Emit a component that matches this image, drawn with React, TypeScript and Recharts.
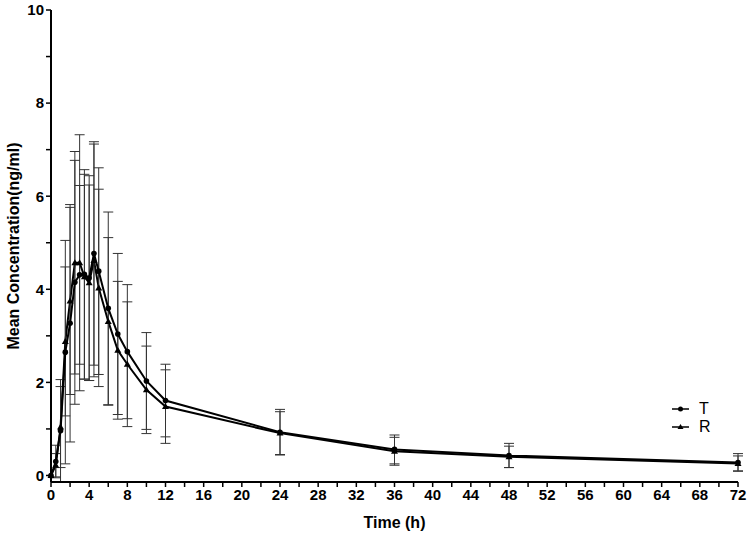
import { LineChart, Line, XAxis, YAxis, ErrorBar, Legend } from 'recharts'

const time = [0, 0.5, 1, 1.5, 2, 2.5, 3, 3.5, 4, 4.5, 5, 6, 7, 8, 10, 12, 24, 36, 48, 72]
const tMean = [0, 0.3, 0.96, 2.65, 3.27, 4.15, 4.31, 4.32, 4.24, 4.77, 4.39, 3.59, 3.04, 2.66, 2.03, 1.61, 0.93, 0.56, 0.43, 0.28]
const tSd = [0, 0.35, 1.1, 2.4, 2.55, 2.62, 1.92, 2.25, 2.2, 2.4, 2.22, 2.07, 1.73, 1.44, 1.04, 0.78, 0.49, 0.31, 0.26, 0.19]
const rMean = [0, 0.22, 1.04, 2.88, 3.75, 4.57, 4.57, 4.27, 4.14, 4.62, 4.03, 3.31, 2.69, 2.39, 1.84, 1.48, 0.91, 0.52, 0.4, 0.26]
const rSd = [0, 0.25, 0.87, 1.6, 2.01, 2.39, 2.75, 2.2, 2.1, 2.5, 2.12, 1.8, 1.48, 1.34, 0.94, 0.79, 0.46, 0.3, 0.23, 0.16]

const xTicks = Array.from({ length: 37 }, (_, i) => i * 2)
const yTicks = [0, 1, 2, 3, 4, 5, 6, 7, 8, 9, 10]

const data = time.map((t, i) => ({ time: t, T: tMean[i], tSd: tSd[i], R: rMean[i], rSd: rSd[i] }))

const font = '"Liberation Sans", Arial, sans-serif'

function XTick({ x, y, payload }: any) {
  if (payload.value % 4 !== 0) return <g />
  return (
    <text x={x} y={y} dy="0.71em" textAnchor="middle" fontFamily={font} fontWeight="bold" fontSize={15} fill="#000">
      {payload.value}
    </text>
  )
}

function YTick({ x, y, payload }: any) {
  if (payload.value % 2 !== 0) return <g />
  return (
    <text x={x} y={y} dy="0.355em" textAnchor="end" fontFamily={font} fontWeight="bold" fontSize={15} fill="#000">
      {payload.value}
    </text>
  )
}

function Triangle({ cx, cy }: any) {
  if (cx == null || cy == null) return <g />
  return <path d={`M${cx},${cy - 3.5} L${cx + 3.5},${cy + 2.5} L${cx - 3.5},${cy + 2.5} Z`} fill="#000" />
}

function LegendBox() {
  const row = (label: string, tri: boolean) => (
    <div style={{ display: 'flex', alignItems: 'center', height: 18 }}>
      <svg width={22} height={12}>
        <line x1={2} y1={6} x2={19} y2={6} stroke="#000" strokeWidth={1.5} />
        {tri ? <path d="M10.5,3 L13.5,8 L7.5,8 Z" fill="#000" /> : <circle cx={10.5} cy={6} r={2.5} fill="#000" />}
      </svg>
      <span style={{ marginLeft: 7, fontSize: 16, lineHeight: '16px' }}>{label}</span>
    </div>
  )
  return (
    <div style={{ fontFamily: font, color: '#000' }}>
      {row('T', false)}
      {row('R', true)}
    </div>
  )
}

export default function App() {
  return (
    <div style={{ position: 'absolute', left: 0, top: 0 }}>
      <LineChart width={749} height={540} data={data} margin={{ top: 10, right: 11, left: 0, bottom: 0 }}>
        <XAxis
          dataKey="time"
          type="number"
          domain={[0, 72]}
          ticks={xTicks}
          interval={0}
          tick={<XTick />}
          tickSize={5}
          height={58}
          axisLine={{ stroke: '#000', strokeWidth: 2 }}
          tickLine={{ stroke: '#000', strokeWidth: 1.5 }}
          label={{ value: 'Time (h)', position: 'insideBottom', offset: 12, fontFamily: font, fontWeight: 'bold', fontSize: 16, fill: '#000' }}
        />
        <YAxis
          type="number"
          domain={[0, 10]}
          ticks={yTicks}
          interval={0}
          tick={<YTick />}
          tickSize={5}
          width={51}
          axisLine={{ stroke: '#000', strokeWidth: 2 }}
          tickLine={{ stroke: '#000', strokeWidth: 1.5 }}
          label={{ value: 'Mean Concentration(ng/ml)', angle: -90, position: 'center', dx: -12, fontFamily: font, fontWeight: 'bold', fontSize: 16, fill: '#000' }}
        />
        <Legend
          layout="horizontal"
          align="center"
          verticalAlign="middle"
          content={<LegendBox />}
          wrapperStyle={{ left: 670, top: 400, width: 60 }}
        />
        <Line type="linear" dataKey="R" stroke="#000" strokeWidth={2} dot={<Triangle />} isAnimationActive={false}>
          <ErrorBar dataKey="rSd" direction="y" width={5} stroke="#333" strokeWidth={1} isAnimationActive={false} />
        </Line>
        <Line type="linear" dataKey="T" stroke="#000" strokeWidth={2} dot={{ r: 2.8, fill: '#000', stroke: 'none' }} isAnimationActive={false}>
          <ErrorBar dataKey="tSd" direction="y" width={5} stroke="#333" strokeWidth={1} isAnimationActive={false} />
        </Line>
      </LineChart>
    </div>
  )
}
